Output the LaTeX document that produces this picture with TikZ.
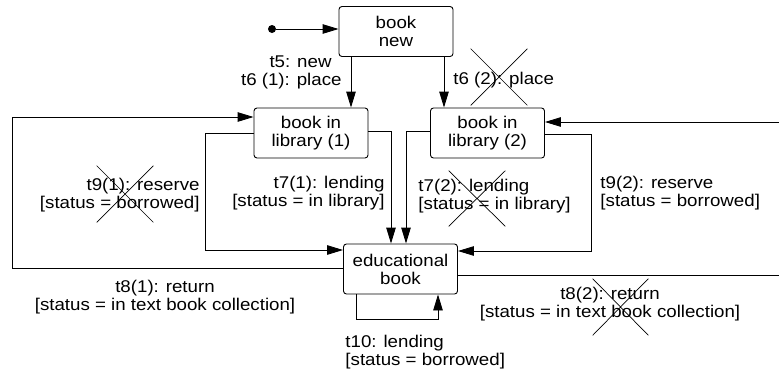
\documentclass[tikz,border=0pt]{standalone}
\usepackage{fontspec}
\setmainfont{Liberation Sans}[FakeStretch=1.1]
\usetikzlibrary{arrows.meta,shapes.misc}

\begin{document}
\begin{tikzpicture}[x=1pt, y=-1pt, line width=0.9pt,
  state/.style = {draw, rounded corners=3pt, minimum width=114pt, minimum height=50pt, inner sep=0pt, align=center},
  lbl/.style = {inner sep=0pt},
  crossed/.style = {draw, cross out, line width=0.7pt, inner sep=0pt},
  arr/.style = {-{Triangle[length=16pt, width=9.5pt]}},
  every node/.append style = {font=\fontsize{17}{18}\selectfont}]

\useasboundingbox (0,0) rectangle (779,373);

\node[circle, fill, inner sep=0pt, minimum size=8pt] (init) at (272,29) {};

\node[state] (new) at (396,31.5) {book\\new};
\node[state] (lib1) at (311,133) {book in\\library (1)};
\node[state] (lib2) at (487.5,133) {book in\\library (2)};
\node[state] (edu) at (400.5,269) {educational\\book};

\coordinate (c1) at (12,268);
\coordinate (c2) at (12,117);
\coordinate (c3) at (205,133);
\coordinate (c4) at (205,250);
\coordinate (c5) at (391,131);
\coordinate (c6) at (406,131);
\coordinate (c7) at (591,134);
\coordinate (c8) at (591,251);
\coordinate (c9) at (779,122);
\coordinate (c10) at (779,275);
\coordinate (c11) at (356,319);
\coordinate (c12) at (438,319);

\draw[arr] (init) -- (new.west |- init);
\draw[arr] ([xshift=-45pt]new.south) -- ([xshift=40pt]lib1.north);
\draw[arr] ([xshift=48pt]new.south) -- ([xshift=-43.5pt]lib2.north);

\draw[arr] (edu.west |- c1) -- (c1) -- (c2) -- (lib1.west |- c2);
\draw[arr] (lib1.west |- c3) -- (c3) -- (c4) -- (edu.west |- c4);
\draw[arr] (lib1.east |- c5) -- (c5) -- (c5 |- edu.north);
\draw[arr] (lib2.west |- c6) -- (c6) -- (c6 |- edu.north);
\draw[arr] (lib2.east |- c7) -- (c7) -- (c8) -- (edu.east |- c8);
\draw[arr] (c9) -- (lib2.east |- c9);
\draw (edu.east |- c10) -- (c10);
\draw[arr] (c11 |- edu.south) -- (c11) -- (c12) -- (c12 |- edu.south);

\node[lbl, anchor=east] (t5) at (332,62) {t5: new};
\node[lbl, anchor=east] (t61) at (342,81) {t6 (1): place};
\node[lbl, anchor=west] (t62) at (453,80) {t6 (2): place};
\node[lbl, anchor=east, align=right] (t91) at (200,195) {t9(1): reserve\\{}[status = borrowed]};
\node[lbl, anchor=east, align=right] (t71) at (385,193) {t7(1): lending\\{}[status = in library]};
\node[lbl, anchor=west, align=left] (t72) at (418,196.5) {t7(2): lending\\{}[status = in library]};
\node[lbl, anchor=west, align=left] (t92) at (600,193) {t9(2): reserve\\{}[status = borrowed]};
\node[lbl, align=center] (t81) at (165,297) {t8(1): return\\{}[status = in text book collection]};
\node[lbl, align=center] (t82) at (610,304.5) {t8(2): return\\{}[status = in text book collection]};
\node[lbl, anchor=west, align=left] (t10) at (345,352) {t10: lending\\{}[status = borrowed]};

% struck out transitions
\node[crossed, minimum width=56pt, minimum height=56pt] (x62) at (499,77) {};
\node[crossed, minimum width=56pt, minimum height=56pt] (x91) at (125,194) {};
\node[crossed, minimum width=56pt, minimum height=55pt] (x72) at (477,198.5) {};
\node[crossed, minimum width=55pt, minimum height=56pt] (x82) at (620.5,307) {};
\end{tikzpicture}
\end{document}
